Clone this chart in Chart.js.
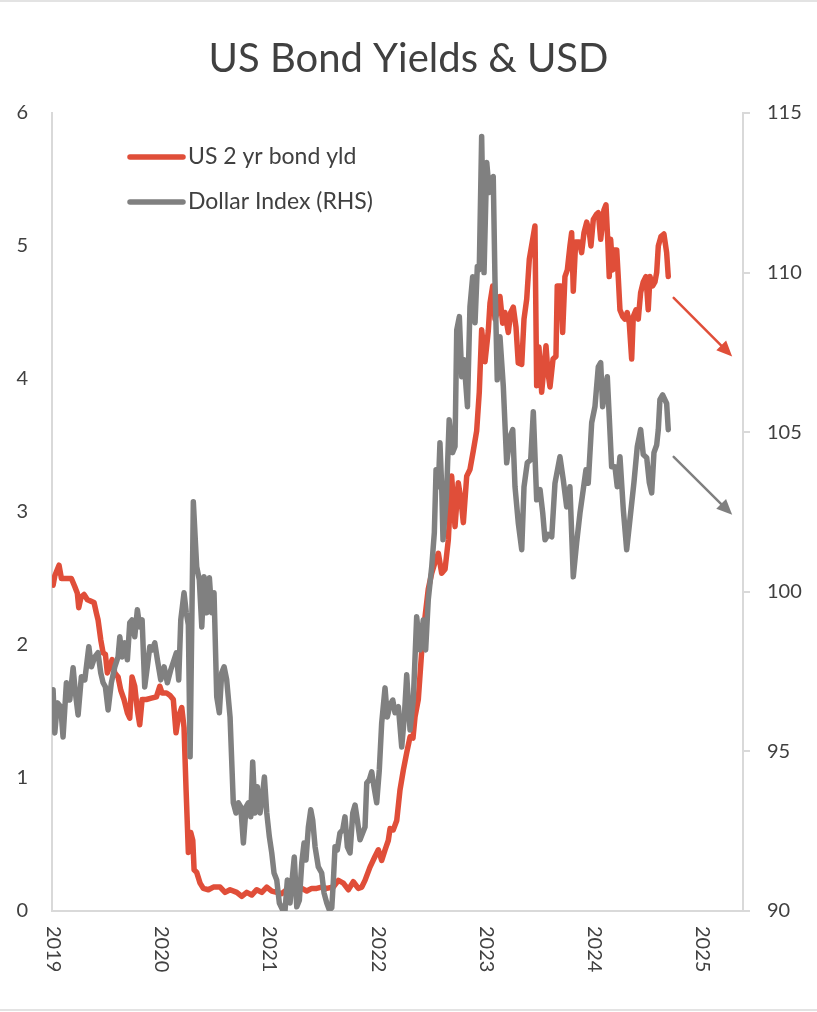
<!DOCTYPE html>
<html>
<head>
<meta charset="utf-8">
<title>US Bond Yields & USD</title>
<script src="https://cdn.jsdelivr.net/npm/chart.js@4.4.1/dist/chart.umd.min.js"></script>
<style>
  html, body { margin: 0; padding: 0; background: #fff; }
  #wrap { position: relative; width: 817px; height: 1012px; }
</style>
</head>
<body>
<div id="wrap"><canvas id="chart"></canvas></div>
<script>
const chartTitle = "US Bond Yields & USD";
const yearLabels = [2019, 2020, 2021, 2022, 2023, 2024, 2025];

// US 2 yr bond yield (%), left axis
const yieldDates = [2019.000, 2019.016, 2019.055, 2019.077, 2019.169, 2019.200, 2019.224, 2019.237, 2019.258, 2019.286,
  2019.317, 2019.348, 2019.378, 2019.400, 2019.415, 2019.440, 2019.462, 2019.483, 2019.501, 2019.523,
  2019.545, 2019.570, 2019.600, 2019.625, 2019.655, 2019.686, 2019.708, 2019.729, 2019.754, 2019.778,
  2019.800, 2019.822, 2019.861, 2019.907, 2019.954, 2019.985, 2020.006, 2020.046, 2020.080, 2020.110,
  2020.135, 2020.157, 2020.188, 2020.209, 2020.228, 2020.249, 2020.271, 2020.290, 2020.302, 2020.326,
  2020.357, 2020.387, 2020.434, 2020.480, 2020.542, 2020.588, 2020.634, 2020.696, 2020.742, 2020.788,
  2020.834, 2020.880, 2020.927, 2020.973, 2021.019, 2021.065, 2021.111, 2021.157, 2021.203, 2021.250,
  2021.296, 2021.342, 2021.388, 2021.434, 2021.480, 2021.527, 2021.587, 2021.634, 2021.680, 2021.726,
  2021.772, 2021.818, 2021.850, 2021.880, 2021.926, 2021.972, 2022.003, 2022.034, 2022.065, 2022.095,
  2022.111, 2022.141, 2022.173, 2022.203, 2022.234, 2022.265, 2022.296, 2022.323, 2022.342, 2022.372,
  2022.404, 2022.434, 2022.464, 2022.496, 2022.526, 2022.557, 2022.588, 2022.619, 2022.649, 2022.680,
  2022.711, 2022.741, 2022.766, 2022.788, 2022.819, 2022.849, 2022.880, 2022.911, 2022.935, 2022.957,
  2022.988, 2023.018, 2023.034, 2023.059, 2023.080, 2023.101, 2023.126, 2023.151, 2023.172, 2023.203,
  2023.225, 2023.249, 2023.274, 2023.295, 2023.327, 2023.348, 2023.373, 2023.397, 2023.449, 2023.465,
  2023.486, 2023.511, 2023.551, 2023.569, 2023.588, 2023.616, 2023.643, 2023.655, 2023.687, 2023.705,
  2023.726, 2023.748, 2023.772, 2023.788, 2023.803, 2023.825, 2023.858, 2023.880, 2023.902, 2023.927,
  2023.951, 2023.966, 2023.988, 2024.019, 2024.034, 2024.056, 2024.074, 2024.086, 2024.105, 2024.121,
  2024.135, 2024.148, 2024.167, 2024.179, 2024.204, 2024.218, 2024.234, 2024.259, 2024.280, 2024.301,
  2024.320, 2024.342, 2024.357, 2024.382, 2024.403, 2024.425, 2024.449, 2024.474, 2024.495, 2024.511,
  2024.536, 2024.557, 2024.573, 2024.588, 2024.612, 2024.640, 2024.665, 2024.680];
const yieldValues = [2.45, 2.52, 2.60, 2.50, 2.50, 2.44, 2.39, 2.28, 2.36, 2.38,
  2.34, 2.33, 2.32, 2.24, 2.19, 2.04, 1.94, 1.93, 1.79, 1.84,
  1.89, 1.79, 1.76, 1.66, 1.59, 1.49, 1.45, 1.76, 1.69, 1.51,
  1.40, 1.59, 1.59, 1.60, 1.61, 1.69, 1.64, 1.64, 1.62, 1.59,
  1.34, 1.46, 1.53, 1.38, 0.91, 0.44, 0.59, 0.53, 0.31, 0.29,
  0.21, 0.17, 0.16, 0.18, 0.18, 0.14, 0.16, 0.14, 0.11, 0.14,
  0.12, 0.16, 0.14, 0.18, 0.15, 0.14, 0.13, 0.16, 0.14, 0.16,
  0.17, 0.15, 0.17, 0.17, 0.18, 0.17, 0.18, 0.23, 0.21, 0.16,
  0.22, 0.17, 0.18, 0.23, 0.33, 0.41, 0.46, 0.38, 0.46, 0.53,
  0.62, 0.61, 0.68, 0.91, 1.06, 1.19, 1.31, 1.30, 1.46, 1.59,
  1.96, 2.21, 2.42, 2.54, 2.62, 2.69, 2.54, 2.57, 2.79, 3.27,
  2.89, 3.22, 3.09, 2.92, 3.27, 3.32, 3.46, 3.61, 3.90, 4.37,
  4.13, 4.36, 4.57, 4.70, 4.45, 4.50, 4.62, 4.42, 4.50, 4.35,
  4.50, 4.54, 4.39, 4.12, 4.11, 4.45, 4.60, 4.90, 5.15, 3.95,
  4.24, 3.90, 4.25, 4.05, 3.94, 4.15, 4.17, 4.70, 4.70, 4.35,
  4.77, 4.82, 5.00, 5.10, 4.66, 5.03, 5.03, 4.95, 5.10, 5.18,
  5.10, 5.00, 5.20, 5.24, 5.25, 5.05, 5.18, 5.27, 5.31, 5.05,
  4.77, 5.05, 4.82, 4.97, 4.97, 4.77, 4.52, 4.47, 4.45, 4.50,
  4.42, 4.15, 4.47, 4.52, 4.45, 4.65, 4.73, 4.77, 4.52, 4.77,
  4.70, 4.73, 4.80, 5.00, 5.07, 5.09, 4.95, 4.77];

// Dollar Index, right axis
const dxyDates = [2019.000, 2019.016, 2019.040, 2019.071, 2019.092, 2019.123, 2019.154, 2019.185, 2019.206, 2019.231,
  2019.261, 2019.293, 2019.330, 2019.354, 2019.385, 2019.415, 2019.440, 2019.462, 2019.483, 2019.508,
  2019.538, 2019.570, 2019.600, 2019.616, 2019.637, 2019.662, 2019.686, 2019.708, 2019.729, 2019.754,
  2019.778, 2019.800, 2019.822, 2019.846, 2019.870, 2019.893, 2019.914, 2019.939, 2019.963, 2019.994,
  2020.025, 2020.055, 2020.086, 2020.117, 2020.138, 2020.160, 2020.179, 2020.209, 2020.230, 2020.249,
  2020.265, 2020.295, 2020.326, 2020.350, 2020.373, 2020.394, 2020.419, 2020.443, 2020.465, 2020.486,
  2020.511, 2020.535, 2020.557, 2020.579, 2020.603, 2020.634, 2020.664, 2020.689, 2020.711, 2020.733,
  2020.757, 2020.782, 2020.803, 2020.825, 2020.843, 2020.865, 2020.886, 2020.911, 2020.936, 2020.951,
  2020.973, 2020.997, 2021.019, 2021.040, 2021.065, 2021.089, 2021.120, 2021.142, 2021.163, 2021.188,
  2021.213, 2021.227, 2021.250, 2021.274, 2021.296, 2021.317, 2021.335, 2021.357, 2021.379, 2021.397,
  2021.419, 2021.449, 2021.480, 2021.502, 2021.527, 2021.551, 2021.573, 2021.587, 2021.603, 2021.624,
  2021.649, 2021.674, 2021.695, 2021.717, 2021.742, 2021.767, 2021.788, 2021.809, 2021.834, 2021.859,
  2021.880, 2021.896, 2021.920, 2021.942, 2021.963, 2021.988, 2022.012, 2022.034, 2022.065, 2022.086,
  2022.111, 2022.136, 2022.157, 2022.188, 2022.219, 2022.243, 2022.265, 2022.296, 2022.326, 2022.357,
  2022.388, 2022.418, 2022.440, 2022.464, 2022.496, 2022.520, 2022.536, 2022.557, 2022.572, 2022.588,
  2022.600, 2022.632, 2022.657, 2022.688, 2022.711, 2022.727, 2022.751, 2022.773, 2022.794, 2022.826,
  2022.849, 2022.874, 2022.896, 2022.917, 2022.935, 2022.957, 2022.979, 2023.004, 2023.028, 2023.050,
  2023.064, 2023.080, 2023.101, 2023.126, 2023.157, 2023.188, 2023.219, 2023.244, 2023.265, 2023.295,
  2023.327, 2023.348, 2023.378, 2023.410, 2023.434, 2023.465, 2023.496, 2023.521, 2023.542, 2023.572,
  2023.604, 2023.634, 2023.680, 2023.711, 2023.742, 2023.772, 2023.803, 2023.834, 2023.865, 2023.895,
  2023.920, 2023.941, 2023.973, 2024.003, 2024.034, 2024.056, 2024.074, 2024.096, 2024.117, 2024.135,
  2024.157, 2024.188, 2024.209, 2024.234, 2024.265, 2024.296, 2024.326, 2024.363, 2024.394, 2024.425,
  2024.449, 2024.481, 2024.505, 2024.527, 2024.548, 2024.573, 2024.588, 2024.603, 2024.628, 2024.665,
  2024.680];
const dxyValues = [96.93, 95.58, 96.52, 96.40, 95.45, 97.15, 96.61, 97.62, 96.83, 96.14,
  97.34, 97.24, 98.28, 97.65, 97.96, 98.09, 97.46, 97.15, 97.02, 96.30,
  97.15, 97.65, 97.96, 98.59, 97.96, 98.40, 97.87, 99.03, 99.12, 98.59,
  99.44, 98.90, 99.12, 97.02, 97.65, 98.28, 98.18, 98.40, 97.87, 97.24,
  97.65, 97.15, 97.55, 97.87, 98.09, 97.24, 99.12, 99.97, 99.34, 98.97,
  94.83, 102.82, 100.78, 100.38, 98.90, 100.47, 99.34, 100.44, 99.34, 99.97,
  96.71, 96.21, 97.46, 97.65, 97.24, 96.08, 93.39, 93.07, 93.39, 93.26,
  92.13, 93.26, 93.39, 92.95, 94.67, 93.07, 93.89, 93.07, 93.70, 94.20,
  93.07, 92.32, 91.82, 91.19, 90.97, 90.25, 90.03, 90.03, 90.97, 90.25,
  91.19, 91.69, 90.13, 90.34, 91.50, 92.13, 91.60, 92.63, 93.17, 92.85,
  92.01, 91.38, 91.19, 90.56, 90.25, 90.03, 90.10, 90.88, 92.01, 91.91,
  92.45, 92.54, 92.95, 92.01, 91.82, 93.07, 93.32, 92.85, 92.23, 92.45,
  92.63, 94.01, 94.11, 94.36, 93.89, 93.39, 94.42, 95.89, 96.99, 96.08,
  96.46, 96.61, 96.21, 96.40, 95.14, 96.08, 97.40, 95.67, 96.61, 99.22,
  98.18, 99.12, 98.18, 99.75, 100.78, 101.85, 103.82, 103.29, 104.67, 103.29,
  101.63, 103.00, 105.39, 104.36, 104.55, 108.20, 108.62, 106.74, 107.27, 105.80,
  108.93, 109.87, 108.43, 110.19, 110.09, 114.26, 110.00, 113.45, 112.51, 112.92,
  113.01, 109.78, 106.64, 107.99, 106.43, 104.04, 104.86, 105.08, 103.29, 102.16,
  101.32, 103.29, 104.04, 104.14, 105.64, 102.88, 103.20, 102.47, 101.63, 101.80,
  101.72, 103.40, 104.23, 103.50, 102.66, 103.29, 100.47, 101.54, 102.47, 103.20,
  103.82, 103.40, 105.30, 105.80, 107.05, 107.18, 105.80, 106.33, 106.74, 105.49,
  103.92, 103.92, 103.29, 104.23, 102.57, 101.32, 102.26, 103.42, 104.55, 105.08,
  104.30, 104.20, 103.42, 103.10, 104.36, 104.60, 105.08, 106.02, 106.17, 105.90,
  105.08];

// direction arrows after the last data point: [startYear, startValue, endYear, endValue]
const yieldArrow = [2024.73, 4.61, 2025.27, 4.17];
const dxyArrow = [2024.73, 104.23, 2025.27, 102.41];

const RED = '#E04E39';
const GREY = '#808080';
const TEXT = '#404040';
const AXIS = '#d9d9d9';
const FONT = 'Lato, "Open Sans", sans-serif';

function drawArrow(ctx, x1, y1, x2, y2, color) {
  const ang = Math.atan2(y2 - y1, x2 - x1);
  const head = 17, spread = 0.42;
  ctx.save();
  ctx.strokeStyle = color;
  ctx.fillStyle = color;
  ctx.lineWidth = 2.5;
  ctx.beginPath();
  ctx.moveTo(x1, y1);
  ctx.lineTo(x2 - Math.cos(ang) * head * 0.8, y2 - Math.sin(ang) * head * 0.8);
  ctx.stroke();
  ctx.beginPath();
  ctx.moveTo(x2, y2);
  ctx.lineTo(x2 - head * Math.cos(ang - spread), y2 - head * Math.sin(ang - spread));
  ctx.lineTo(x2 - head * Math.cos(ang + spread), y2 - head * Math.sin(ang + spread));
  ctx.closePath();
  ctx.fill();
  ctx.restore();
}

const decor = {
  id: 'decor',
  beforeDraw(chart) {
    const ctx = chart.ctx;
    ctx.save();
    ctx.fillStyle = '#fff';
    ctx.fillRect(0, 0, chart.width, chart.height);
    // faint frame lines at top and bottom of the picture
    ctx.fillStyle = '#e3e3e3';
    ctx.fillRect(0, 0, chart.width, 2);
    ctx.fillRect(0, chart.height - 3, chart.width, 2);
    ctx.restore();
  },
  afterDraw(chart) {
    const { ctx, chartArea, scales } = chart;
    ctx.save();
    // title
    ctx.fillStyle = TEXT;
    ctx.font = '40px ' + FONT;
    ctx.textAlign = 'center';
    ctx.textBaseline = 'alphabetic';
    ctx.fillText(chartTitle, chart.width / 2, 72);

    // year labels, rotated to read top to bottom
    ctx.font = '20px ' + FONT;
    yearLabels.forEach(yr => {
      const x = scales.x.getPixelForValue(yr);
      ctx.save();
      ctx.translate(x, chartArea.bottom + 15);
      ctx.rotate(Math.PI / 2);
      ctx.textAlign = 'left';
      ctx.textBaseline = 'middle';
      ctx.fillText(String(yr), 0, 0);
      ctx.restore();
    });

    // legend inside the plot
    ctx.font = '23px ' + FONT;
    chart.data.datasets.forEach((ds, i) => {
      const ly = chartArea.top + 44 + i * 45;
      const lx = chartArea.left + 78;
      ctx.strokeStyle = ds.borderColor;
      ctx.lineWidth = 5.5;
      ctx.lineCap = 'round';
      ctx.beginPath();
      ctx.moveTo(lx, ly);
      ctx.lineTo(lx + 53, ly);
      ctx.stroke();
      ctx.fillStyle = TEXT;
      ctx.textAlign = 'left';
      ctx.textBaseline = 'middle';
      ctx.fillText(ds.label, lx + 58, ly);
    });

    // arrows
    drawArrow(ctx,
      scales.x.getPixelForValue(yieldArrow[0]), scales.y.getPixelForValue(yieldArrow[1]),
      scales.x.getPixelForValue(yieldArrow[2]), scales.y.getPixelForValue(yieldArrow[3]), RED);
    drawArrow(ctx,
      scales.x.getPixelForValue(dxyArrow[0]), scales.y1.getPixelForValue(dxyArrow[1]),
      scales.x.getPixelForValue(dxyArrow[2]), scales.y1.getPixelForValue(dxyArrow[3]), GREY);
    ctx.restore();
  }
};

new Chart(document.getElementById('chart'), {
  type: 'line',
  data: {
    datasets: [
      {
        label: 'US 2 yr bond yld',
        data: yieldDates.map((x, i) => ({ x: x, y: yieldValues[i] })),
        borderColor: RED,
        backgroundColor: RED,
        borderWidth: 5.5,
        pointRadius: 0,
        borderJoinStyle: 'round',
        borderCapStyle: 'round',
        yAxisID: 'y',
        order: 1
      },
      {
        label: 'Dollar Index (RHS)',
        data: dxyDates.map((x, i) => ({ x: x, y: dxyValues[i] })),
        borderColor: GREY,
        backgroundColor: GREY,
        borderWidth: 5.5,
        pointRadius: 0,
        borderJoinStyle: 'round',
        borderCapStyle: 'round',
        yAxisID: 'y1',
        order: 0
      }
    ]
  },
  options: {
    responsive: true,
    maintainAspectRatio: false,
    animation: false,
    layout: { padding: { top: 113, left: 0, right: 0, bottom: 0 } },
    plugins: {
      legend: { display: false },
      tooltip: { enabled: false },
      title: { display: false }
    },
    scales: {
      x: {
        type: 'linear',
        min: 2018.99,
        max: 2025.37,
        ticks: { display: false },
        grid: { display: false, drawTicks: false },
        border: { display: true, color: AXIS, width: 2 },
        afterFit(s) { s.height = 101; }
      },
      y: {
        position: 'left',
        min: 0,
        max: 6,
        ticks: { stepSize: 1, color: TEXT, font: { family: FONT, size: 20 }, padding: 24 },
        grid: { display: false, drawTicks: false },
        border: { display: true, color: AXIS, width: 2 },
        afterFit(s) { s.width = 52; }
      },
      y1: {
        position: 'right',
        min: 90,
        max: 115,
        ticks: { stepSize: 5, color: TEXT, font: { family: FONT, size: 20 }, padding: 17 },
        grid: { drawOnChartArea: false, drawTicks: true, tickLength: 7, color: AXIS, lineWidth: 2 },
        border: { display: true, color: AXIS, width: 2 },
        afterFit(s) { s.width = 74; }
      }
    }
  },
  plugins: [decor]
});
</script>
</body>
</html>
